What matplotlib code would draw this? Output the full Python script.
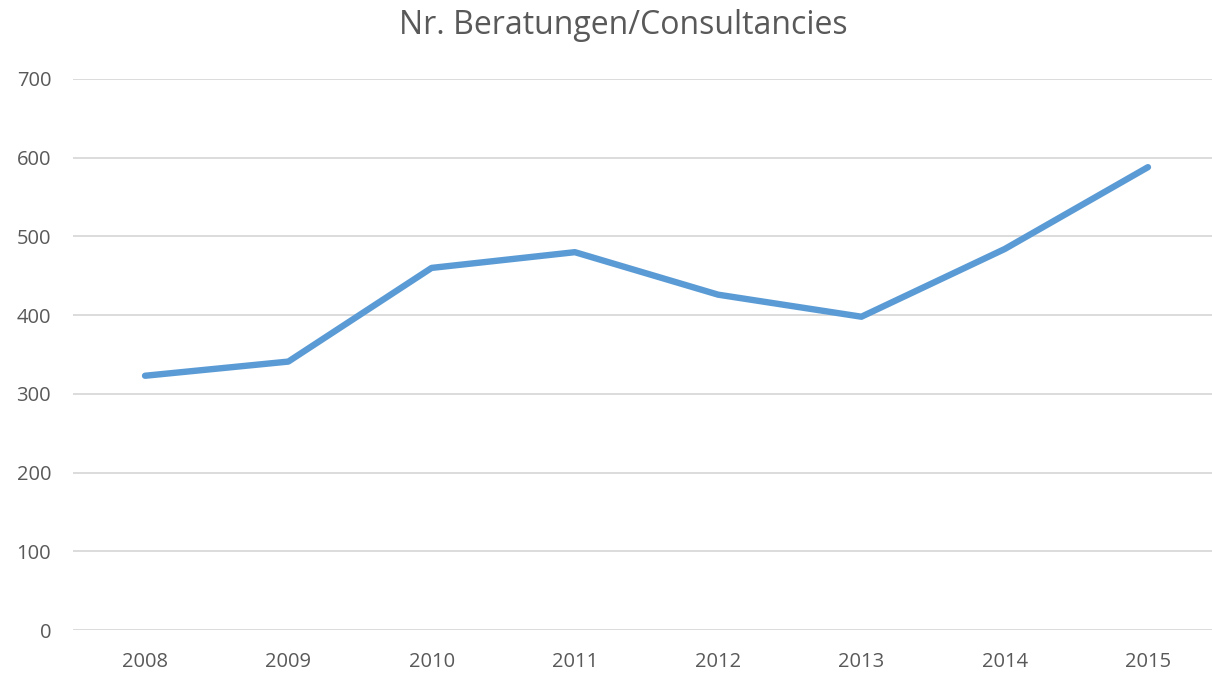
import matplotlib.pyplot as plt

# Daten
years = ['2008', '2009', '2010', '2011', '2012', '2013', '2014', '2015']
beratungen = [323, 341, 460, 480, 426, 398, 484, 588]
y_ticks = [0, 100, 200, 300, 400, 500, 600, 700]

plt.rcParams['font.family'] = ['Open Sans', 'DejaVu Sans']
text_col = '#595959'

fig = plt.figure(figsize=(12.12, 6.73), dpi=100)
ax = fig.add_axes([73.4 / 1212, 1 - 630 / 673, (1219.6 - 73.4) / 1212, (630 - 79) / 673])

x = range(len(years))
ax.plot(x, beratungen, color='#5B9BD5', linewidth=4.6, solid_capstyle='round', solid_joinstyle='round', zorder=3)

ax.set_xlim(-0.5, len(years) - 0.5)
ax.set_ylim(0, 700)
ax.set_xticks(list(x))
ax.set_xticklabels(years)
ax.set_yticks(y_ticks)
ax.yaxis.grid(True, color='#D9D9D9', linewidth=1.3)
ax.set_axisbelow(True)
for s in ax.spines.values():
    s.set_visible(False)
ax.tick_params(length=0, labelsize=14.5, colors=text_col)
ax.tick_params(axis='x', pad=16)
ax.tick_params(axis='y', pad=16)

fig.text(623 / 1212, 1 - 26 / 673, 'Nr. Beratungen/Consultancies', ha='center', va='center',
         fontsize=23, color=text_col)

fig.savefig('out.png', dpi=100)
